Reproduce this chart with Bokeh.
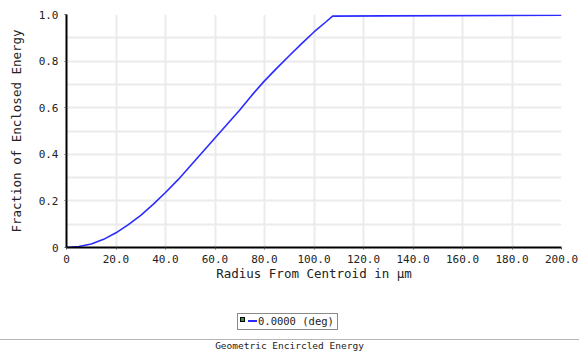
from bokeh.plotting import figure
from bokeh.models import Range1d, FixedTicker, Div
from bokeh.layouts import column
from bokeh.embed import file_html
from bokeh.resources import INLINE

# Data
radius_um = [0, 5, 10, 15, 20, 25, 30, 35, 40, 45, 50, 55, 60, 65, 70, 75, 80,
             85, 90, 95, 100, 105, 107.5, 128, 200]
enclosed = [0, 0.004, 0.015, 0.035, 0.063, 0.098, 0.138, 0.185, 0.236, 0.29,
            0.35, 0.41, 0.47, 0.53, 0.59, 0.655, 0.715, 0.77, 0.823, 0.875,
            0.925, 0.97, 0.993, 0.994, 0.997]
x_ticks = [0, 20, 40, 60, 80, 100, 120, 140, 160, 180, 200]
x_tick_labels = ["0", "20.0", "40.0", "60.0", "80.0", "100.0", "120.0", "140.0",
                 "160.0", "180.0", "200.0"]
y_ticks = [0, 0.2, 0.4, 0.6, 0.8, 1.0]
y_tick_labels = ["0", "0.2", "0.4", "0.6", "0.8", "1.0"]
y_grid = [0, 0.1, 0.2, 0.3, 0.4, 0.5, 0.6, 0.7, 0.8, 0.9, 1.0]
legend_label = "0.0000 (deg)"
footer = "Geometric Encircled Energy"
x_title = "Radius From Centroid in µm"
y_title = "Fraction of Enclosed Energy"

MONO = "DejaVu Sans Mono"
LINE_COLOR = "#2b2bff"

p = figure(width=579, height=290, output_backend="svg", toolbar_location=None,
           x_range=Range1d(0, 200), y_range=Range1d(0, 1),
           min_border_left=66, min_border_right=18, min_border_top=14,
           min_border_bottom=43)
p.outline_line_color = None
p.background_fill_color = "white"
p.border_fill_color = "white"

p.line(radius_um, enclosed, line_color=LINE_COLOR, line_width=1.6)

# axes
p.xaxis.ticker = FixedTicker(ticks=x_ticks)
p.xaxis.major_label_overrides = {t: l for t, l in zip(x_ticks, x_tick_labels)}
p.yaxis.ticker = FixedTicker(ticks=y_ticks)
p.yaxis.major_label_overrides = {t: l for t, l in zip(y_ticks, y_tick_labels)}
for ax in (p.xaxis[0], p.yaxis[0]):
    ax.axis_line_color = "black"
    ax.axis_line_width = 2
    ax.major_tick_in = 0
    ax.major_tick_out = 2
    ax.major_tick_line_color = "#555555"
    ax.minor_tick_line_color = None
    ax.major_label_text_font = MONO
    ax.major_label_text_font_size = "11px"
    ax.major_label_text_color = "#222222"
    ax.axis_label_text_font = MONO
    ax.axis_label_text_font_size = "12.5px"
    ax.axis_label_text_font_style = "normal"
    ax.axis_label_text_color = "#222222"
p.xaxis.axis_label = x_title
p.yaxis.axis_label = y_title
p.xaxis.major_label_standoff = 5
p.xaxis.axis_label_standoff = 0
p.yaxis.major_label_standoff = 6
p.yaxis.axis_label_standoff = 12

p.xgrid.ticker = FixedTicker(ticks=x_ticks)
p.ygrid.ticker = FixedTicker(ticks=y_grid)
p.grid.grid_line_color = "#ebebeb"
p.grid.grid_line_width = 2

# legend + footer strip (HTML, positioned in page pixels)
html = f"""
<div style="position:relative;width:579px;height:61px;overflow:hidden;
            font-family:'{MONO}';color:#222;background:white;">
  <div style="position:absolute;left:237px;top:23px;width:99px;height:15px;
              border:1px solid #8a8a8a;box-sizing:content-box;"></div>
  <div style="position:absolute;left:240px;top:27px;width:5px;height:5px;
              background:#2e9e2e;border:1px solid #000;"></div>
  <div style="position:absolute;left:248px;top:30px;width:9px;height:2px;
              background:{LINE_COLOR};"></div>
  <div style="position:absolute;left:258px;top:23px;height:16px;line-height:16px;
              font-size:10.5px;white-space:nowrap;">{legend_label}</div>
  <div style="position:absolute;left:0px;top:49px;width:579px;height:1px;
              background:#b5b5b5;"></div>
  <div style="position:absolute;left:0px;top:50px;width:579px;text-align:center;
              font-size:9.5px;line-height:11px;white-space:nowrap;">{footer}</div>
</div>
"""
strip = Div(text=html, width=579, height=61, margin=0)

layout = column(p, strip, spacing=0)
open("out.html", "w").write(file_html(layout, INLINE))
